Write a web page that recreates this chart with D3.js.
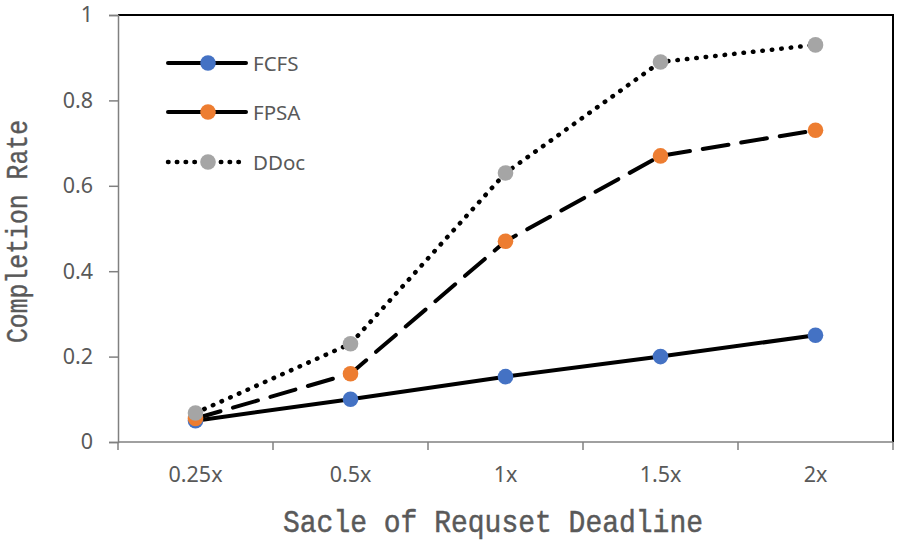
<!DOCTYPE html>
<html>
<head>
<meta charset="utf-8">
<script src="https://cdn.jsdelivr.net/npm/d3@7"></script>
<style>
  body { margin: 0; background: #fff; }
  svg { display: block; }
</style>
</head>
<body>
<div id="chart"></div>
<script>
// donnees
const categories = ["0.25x", "0.5x", "1x", "1.5x", "2x"];
const fcfs = [0.05, 0.10, 0.153, 0.20, 0.25];
const fpsa = [0.055, 0.16, 0.47, 0.67, 0.73];
const ddoc = [0.068, 0.23, 0.63, 0.89, 0.93];
const yTicks = [0, 0.2, 0.4, 0.6, 0.8, 1];
const seriesNames = ["FCFS", "FPSA", "DDoc"];

function drawChart(w = 900, h = 543) {
  const svg = d3.create("svg")
    .attr("width", w)
    .attr("height", h)
    .attr("viewBox", [0, 0, w, h]);

  let margin = { top: 15, right: 7, bottom: 101, left: 118 };

  let x = d3.scaleBand()
    .domain(categories)
    .range([margin.left, w - margin.right]);

  let y = d3.scaleLinear()
    .domain([0, 1])
    .range([h - margin.bottom, margin.top]);

  const grey = "#808080";
  const txt = "#595959";

  // cadre haut et droit (noir)
  svg.append("path")
    .attr("d", `M${margin.left},${y(1)}H${w - margin.right}V${y(0)}`)
    .attr("fill", "none")
    .attr("stroke", "#000")
    .attr("stroke-width", 2);

  // axe y
  let yAxis = svg.append("g")
    .attr("transform", `translate(${margin.left},0)`)
    .call(d3.axisLeft(y).tickValues(yTicks).tickSize(9).tickPadding(16)
      .tickFormat(d => d === 0 || d === 1 ? d3.format("d")(d) : d3.format(".1f")(d)));
  yAxis.select(".domain").attr("stroke", grey).attr("stroke-width", 1.5);
  yAxis.selectAll(".tick line").attr("stroke", grey).attr("stroke-width", 1.5);
  yAxis.selectAll(".tick text")
    .attr("fill", txt)
    .style("font-family", "'Noto Sans', sans-serif")
    .style("font-size", "21.5px");

  // axe x : graduations aux bords des categories
  let xAxis = svg.append("g")
    .attr("transform", `translate(0,${y(0)})`);
  xAxis.append("line")
    .attr("x1", margin.left).attr("x2", w - margin.right)
    .attr("stroke", grey).attr("stroke-width", 1.5);
  let edges = categories.map(c => x(c)).concat([x(categories[categories.length - 1]) + x.bandwidth()]);
  xAxis.selectAll("line.tk")
    .data(edges)
    .enter()
    .append("line")
    .attr("class", "tk")
    .attr("x1", d => d).attr("x2", d => d)
    .attr("y1", 0).attr("y2", 8)
    .attr("stroke", grey).attr("stroke-width", 1.5);
  xAxis.selectAll("text")
    .data(categories)
    .enter()
    .append("text")
    .attr("x", d => x(d) + x.bandwidth() / 2)
    .attr("y", 40)
    .attr("text-anchor", "middle")
    .attr("fill", txt)
    .style("font-family", "'Noto Sans', sans-serif")
    .style("font-size", "21.5px")
    .text(d => d);

  // titres des axes
  svg.append("text")
    .attr("x", 493)
    .attr("y", 532)
    .attr("text-anchor", "middle")
    .attr("fill", txt)
    .attr("stroke", txt)
    .attr("stroke-width", 0.5)
    .attr("textLength", 420)
    .attr("lengthAdjust", "spacingAndGlyphs")
    .style("font-family", "'Liberation Mono', monospace")
    .style("font-size", "32px")
    .text("Sacle of Requset Deadline");

  svg.append("text")
    .attr("transform", `translate(27,${(y(0) + y(1)) / 2 + 3}) rotate(-90)`)
    .attr("text-anchor", "middle")
    .attr("fill", txt)
    .attr("stroke", txt)
    .attr("stroke-width", 0.4)
    .attr("textLength", 223)
    .attr("lengthAdjust", "spacingAndGlyphs")
    .style("font-family", "'Liberation Mono', monospace")
    .style("font-size", "29px")
    .text("Completion Rate");

  const styles = [
    { color: "#4472C4", dash: null, cap: "round" },
    { color: "#ED7D31", dash: "26,13", cap: "round" },
    { color: "#A5A5A5", dash: "0.5,9", cap: "round" }
  ];
  const data = [fcfs, fpsa, ddoc];

  let line = d3.line()
    .x((d, i) => x(categories[i]) + x.bandwidth() / 2)
    .y(d => y(d));

  data.forEach((vals, k) => {
    let g = svg.append("g");
    g.append("path")
      .datum(vals)
      .attr("d", line)
      .attr("fill", "none")
      .attr("stroke", "#000")
      .attr("stroke-width", k === 2 ? 4.5 : 4)
      .attr("stroke-linecap", styles[k].cap)
      .attr("stroke-linejoin", "round")
      .attr("stroke-dasharray", styles[k].dash);
    g.selectAll("circle")
      .data(vals)
      .enter()
      .append("circle")
      .attr("cx", (d, i) => x(categories[i]) + x.bandwidth() / 2)
      .attr("cy", d => y(d))
      .attr("r", 7.8)
      .attr("fill", styles[k].color);
  });

  // legende
  let legend = svg.append("g");
  const legY = [63, 112, 162];
  seriesNames.forEach((name, k) => {
    let row = legend.append("g").attr("transform", `translate(0,${legY[k]})`);
    row.append("line")
      .attr("x1", 168).attr("x2", 246)
      .attr("stroke", "#000")
      .attr("stroke-width", k === 2 ? 4.5 : 4)
      .attr("stroke-linecap", "round")
      .attr("stroke-dasharray", k === 2 ? "0.5,8.3" : null);
    row.append("circle")
      .attr("cx", 208).attr("cy", 0).attr("r", 7.8)
      .attr("fill", styles[k].color);
    row.append("text")
      .attr("x", 253).attr("y", 7.5)
      .attr("fill", txt)
      .style("font-family", "'Noto Sans', sans-serif")
      .style("font-size", "20.5px")
      .text(name);
  });

  return svg.node();
}

document.getElementById("chart").appendChild(drawChart());
</script>
</body>
</html>
